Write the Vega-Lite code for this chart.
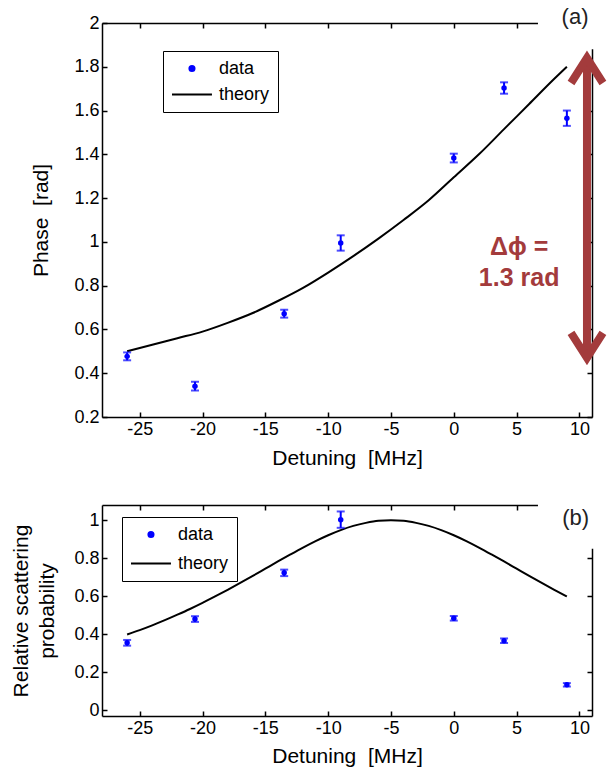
{
  "$schema": "https://vega.github.io/schema/vega-lite/v6.json",
  "padding": {"left": 10, "top": 6, "right": 0, "bottom": 2},
  "spacing": 88,
  "bounds": "flush",
  "resolve": {"scale": {"color": "independent"}, "legend": {"color": "independent"}},
  "datasets": {
    "phase": [
      {"x": -26, "y": 0.477, "lo": 0.459, "hi": 0.495, "series": "data"},
      {"x": -20.6, "y": 0.341, "lo": 0.321, "hi": 0.361, "series": "data"},
      {"x": -13.5, "y": 0.672, "lo": 0.654, "hi": 0.69, "series": "data"},
      {"x": -9, "y": 0.995, "lo": 0.96, "hi": 1.03, "series": "data"},
      {"x": 0, "y": 1.383, "lo": 1.363, "hi": 1.403, "series": "data"},
      {"x": 4, "y": 1.703, "lo": 1.677, "hi": 1.729, "series": "data"},
      {"x": 9, "y": 1.565, "lo": 1.53, "hi": 1.6, "series": "data"}
    ],
    "phase_theory": [
      {"x": -26, "y": 0.5, "series": "theory"},
      {"x": -24, "y": 0.53, "series": "theory"},
      {"x": -22, "y": 0.56, "series": "theory"},
      {"x": -20, "y": 0.59, "series": "theory"},
      {"x": -18, "y": 0.63, "series": "theory"},
      {"x": -16, "y": 0.675, "series": "theory"},
      {"x": -14, "y": 0.73, "series": "theory"},
      {"x": -12, "y": 0.79, "series": "theory"},
      {"x": -10, "y": 0.86, "series": "theory"},
      {"x": -8, "y": 0.935, "series": "theory"},
      {"x": -6, "y": 1.015, "series": "theory"},
      {"x": -4, "y": 1.1, "series": "theory"},
      {"x": -2, "y": 1.19, "series": "theory"},
      {"x": 0, "y": 1.295, "series": "theory"},
      {"x": 2, "y": 1.4, "series": "theory"},
      {"x": 4, "y": 1.515, "series": "theory"},
      {"x": 6, "y": 1.63, "series": "theory"},
      {"x": 8, "y": 1.745, "series": "theory"},
      {"x": 9, "y": 1.8, "series": "theory"}
    ],
    "scat": [
      {"x": -26, "y": 0.355, "lo": 0.34, "hi": 0.37, "series": "data"},
      {"x": -20.6, "y": 0.48, "lo": 0.465, "hi": 0.495, "series": "data"},
      {"x": -13.5, "y": 0.723, "lo": 0.706, "hi": 0.74, "series": "data"},
      {"x": -9, "y": 1.003, "lo": 0.96, "hi": 1.046, "series": "data"},
      {"x": 0, "y": 0.484, "lo": 0.472, "hi": 0.496, "series": "data"},
      {"x": 4, "y": 0.366, "lo": 0.354, "hi": 0.378, "series": "data"},
      {"x": 9, "y": 0.134, "lo": 0.125, "hi": 0.143, "series": "data"}
    ],
    "scat_theory": [
      {"x": -26, "y": 0.399, "series": "theory"},
      {"x": -25, "y": 0.422, "series": "theory"},
      {"x": -24, "y": 0.447, "series": "theory"},
      {"x": -23, "y": 0.474, "series": "theory"},
      {"x": -22, "y": 0.503, "series": "theory"},
      {"x": -21, "y": 0.533, "series": "theory"},
      {"x": -20, "y": 0.565, "series": "theory"},
      {"x": -19, "y": 0.599, "series": "theory"},
      {"x": -18, "y": 0.634, "series": "theory"},
      {"x": -17, "y": 0.67, "series": "theory"},
      {"x": -16, "y": 0.707, "series": "theory"},
      {"x": -15, "y": 0.745, "series": "theory"},
      {"x": -14, "y": 0.783, "series": "theory"},
      {"x": -13, "y": 0.82, "series": "theory"},
      {"x": -12, "y": 0.856, "series": "theory"},
      {"x": -11, "y": 0.89, "series": "theory"},
      {"x": -10, "y": 0.921, "series": "theory"},
      {"x": -9, "y": 0.948, "series": "theory"},
      {"x": -8, "y": 0.97, "series": "theory"},
      {"x": -7, "y": 0.986, "series": "theory"},
      {"x": -6, "y": 0.997, "series": "theory"},
      {"x": -5, "y": 1.0, "series": "theory"},
      {"x": -4, "y": 0.997, "series": "theory"},
      {"x": -3, "y": 0.986, "series": "theory"},
      {"x": -2, "y": 0.97, "series": "theory"},
      {"x": -1, "y": 0.948, "series": "theory"},
      {"x": 0, "y": 0.921, "series": "theory"},
      {"x": 1, "y": 0.89, "series": "theory"},
      {"x": 2, "y": 0.856, "series": "theory"},
      {"x": 3, "y": 0.82, "series": "theory"},
      {"x": 4, "y": 0.783, "series": "theory"},
      {"x": 5, "y": 0.745, "series": "theory"},
      {"x": 6, "y": 0.707, "series": "theory"},
      {"x": 7, "y": 0.67, "series": "theory"},
      {"x": 8, "y": 0.634, "series": "theory"},
      {"x": 9, "y": 0.599, "series": "theory"}
    ],
    "arrow": [
      {"part": "shaft", "i": 0, "x": 10.6, "y": 0.47},
      {"part": "shaft", "i": 1, "x": 10.6, "y": 1.84},
      {"part": "head_top", "i": 0, "x": 9.33, "y": 1.726},
      {"part": "head_top", "i": 1, "x": 10.6, "y": 1.84},
      {"part": "head_top", "i": 2, "x": 11.87, "y": 1.726},
      {"part": "head_bottom", "i": 0, "x": 9.33, "y": 0.584},
      {"part": "head_bottom", "i": 1, "x": 10.6, "y": 0.47},
      {"part": "head_bottom", "i": 2, "x": 11.87, "y": 0.584}
    ]
  },
  "vconcat": [
    {
      "width": 490,
      "height": 394,
      "resolve": {"axis": {"x": "independent", "y": "independent"}},
      "layer": [
        {
          "data": {"name": "phase_theory"},
          "mark": {"type": "line", "strokeWidth": 2, "interpolate": "monotone"},
          "encoding": {
            "x": {"field": "x", "type": "quantitative", "scale": {"domain": [-28, 11], "nice": false},
                  "axis": {"values": [-25, -20, -15, -10, -5, 0, 5, 10], "labelExpr": "'' + datum.value", "title": "Detuning\u00a0\u00a0[MHz]", "titlePadding": 9}},
            "y": {"field": "y", "type": "quantitative", "scale": {"domain": [0.2, 2], "nice": false, "zero": false},
                  "axis": {"values": [0.2, 0.4, 0.6, 0.8, 1, 1.2, 1.4, 1.6, 1.8, 2], "format": "~g", "title": "Phase\u00a0\u00a0[rad]", "titlePadding": 22}},
            "color": {"field": "series", "type": "nominal",
                      "scale": {"domain": ["data", "theory"], "range": ["#0000ff", "#000000"]},
                      "legend": {"orient": "none", "legendX": 61, "legendY": 28, "title": null,
                                 "strokeColor": "#000000", "fillColor": "#ffffff", "padding": 8,
                                 "labelFontSize": 18, "labelColor": "#000000", "labelOffset": 29,
                                 "symbolSize": 289, "rowPadding": 7,
                                 "encode": {"symbols": {"update": {
                                   "shape": {"signal": "datum.value === 'data' ? 'M1.05,0a0.3,0.3 0 1,0 0.6,0a0.3,0.3 0 1,0 -0.6,0Z' : 'M-1,0L3.7,0'"},
                                   "size": {"value": 289},
                                   "fill": {"signal": "datum.value === 'data' ? '#0000ff' : 'transparent'"},
                                   "stroke": {"signal": "datum.value === 'data' ? 'transparent' : '#000000'"},
                                   "strokeWidth": {"value": 2},
                                   "opacity": {"value": 1}}}}}}
          }
        },
        {
          "data": {"name": "phase"},
          "mark": {"type": "errorbar", "color": "#0000ff", "thickness": 2, "ticks": {"size": 8, "thickness": 2}},
          "encoding": {
            "x": {"field": "x", "type": "quantitative", "scale": {"domain": [-28, 11], "nice": false}, "axis": null},
            "y": {"field": "lo", "type": "quantitative", "scale": {"domain": [0.2, 2], "nice": false, "zero": false}, "axis": null},
            "y2": {"field": "hi"}
          }
        },
        {
          "data": {"name": "phase"},
          "mark": {"type": "point", "filled": true, "opacity": 1, "size": 30},
          "encoding": {
            "x": {"field": "x", "type": "quantitative", "scale": {"domain": [-28, 11], "nice": false},
                  "axis": {"orient": "top", "values": [-25, -20, -15, -10, -5, 0, 5, 10], "labels": false, "title": null}},
            "y": {"field": "y", "type": "quantitative", "scale": {"domain": [0.2, 2], "nice": false, "zero": false},
                  "axis": {"orient": "right", "values": [0.2, 0.4, 0.6, 0.8, 1, 1.2, 1.4, 1.6, 1.8, 2], "labels": false, "title": null}},
            "color": {"field": "series", "type": "nominal", "scale": {"domain": ["data", "theory"], "range": ["#0000ff", "#000000"]}}
          }
        },
        {
          "data": {"values": [{"x1": 6.7, "x2": 11.4, "y1": 1.88, "y2": 2.008}]},
          "mark": {"type": "rect", "color": "#ffffff", "clip": false},
          "encoding": {
            "x": {"field": "x1", "type": "quantitative", "scale": {"domain": [-28, 11], "nice": false}, "axis": null},
            "x2": {"field": "x2"},
            "y": {"field": "y1", "type": "quantitative", "scale": {"domain": [0.2, 2], "nice": false, "zero": false}, "axis": null},
            "y2": {"field": "y2"}
          }
        },
        {
          "data": {"name": "arrow"},
          "mark": {"type": "line", "color": "#a33b3c", "strokeWidth": 8, "strokeJoin": "miter", "strokeCap": "butt", "clip": false},
          "encoding": {
            "x": {"field": "x", "type": "quantitative", "scale": {"domain": [-28, 11], "nice": false}, "axis": null},
            "y": {"field": "y", "type": "quantitative", "scale": {"domain": [0.2, 2], "nice": false, "zero": false}, "axis": null},
            "detail": {"field": "part"},
            "order": {"field": "i"}
          }
        },
        {
          "data": {"values": [
            {"x": 5.2, "y": 0.977, "label": "Δϕ ="},
            {"x": 5.2, "y": 0.835, "label": "1.3 rad"}
          ]},
          "mark": {"type": "text", "color": "#a33b3c", "fontSize": 25, "fontWeight": "bold", "align": "center", "baseline": "middle"},
          "encoding": {
            "x": {"field": "x", "type": "quantitative", "scale": {"domain": [-28, 11], "nice": false}, "axis": null},
            "y": {"field": "y", "type": "quantitative", "scale": {"domain": [0.2, 2], "nice": false, "zero": false}, "axis": null},
            "text": {"field": "label"}
          }
        },
        {
          "data": {"values": [{"x": 9.65, "y": 2.027, "label": "(a)"}]},
          "mark": {"type": "text", "color": "#222222", "fontSize": 22, "align": "center", "baseline": "middle", "clip": false},
          "encoding": {
            "x": {"field": "x", "type": "quantitative", "scale": {"domain": [-28, 11], "nice": false}, "axis": null},
            "y": {"field": "y", "type": "quantitative", "scale": {"domain": [0.2, 2], "nice": false, "zero": false}, "axis": null},
            "text": {"field": "label"}
          }
        }
      ]
    },
    {
      "width": 490,
      "height": 211,
      "resolve": {"axis": {"x": "independent", "y": "independent"}},
      "layer": [
        {
          "data": {"name": "scat_theory"},
          "mark": {"type": "line", "strokeWidth": 2, "interpolate": "monotone"},
          "encoding": {
            "x": {"field": "x", "type": "quantitative", "scale": {"domain": [-28, 11], "nice": false},
                  "axis": {"values": [-25, -20, -15, -10, -5, 0, 5, 10], "labelExpr": "'' + datum.value", "title": "Detuning\u00a0\u00a0[MHz]", "titlePadding": 8}},
            "y": {"field": "y", "type": "quantitative", "scale": {"domain": [-0.03, 1.08], "nice": false, "zero": false},
                  "axis": {"values": [0, 0.2, 0.4, 0.6, 0.8, 1], "format": "~g", "title": ["Relative scattering", "probability"], "titlePadding": 16, "titleLineHeight": 26}},
            "color": {"field": "series", "type": "nominal",
                      "scale": {"domain": ["data", "theory"], "range": ["#0000ff", "#000000"]},
                      "legend": {"orient": "none", "legendX": 20, "legendY": 12, "title": null,
                                 "strokeColor": "#000000", "fillColor": "#ffffff", "padding": 8,
                                 "labelFontSize": 18, "labelColor": "#000000", "labelOffset": 29,
                                 "symbolSize": 289, "rowPadding": 10,
                                 "encode": {"symbols": {"update": {
                                   "shape": {"signal": "datum.value === 'data' ? 'M1.05,0a0.3,0.3 0 1,0 0.6,0a0.3,0.3 0 1,0 -0.6,0Z' : 'M-1,0L3.7,0'"},
                                   "size": {"value": 289},
                                   "fill": {"signal": "datum.value === 'data' ? '#0000ff' : 'transparent'"},
                                   "stroke": {"signal": "datum.value === 'data' ? 'transparent' : '#000000'"},
                                   "strokeWidth": {"value": 2},
                                   "opacity": {"value": 1}}}}}}
          }
        },
        {
          "data": {"name": "scat"},
          "mark": {"type": "errorbar", "color": "#0000ff", "thickness": 2, "ticks": {"size": 8, "thickness": 2}},
          "encoding": {
            "x": {"field": "x", "type": "quantitative", "scale": {"domain": [-28, 11], "nice": false}, "axis": null},
            "y": {"field": "lo", "type": "quantitative", "scale": {"domain": [-0.03, 1.08], "nice": false, "zero": false}, "axis": null},
            "y2": {"field": "hi"}
          }
        },
        {
          "data": {"name": "scat"},
          "mark": {"type": "point", "filled": true, "opacity": 1, "size": 30},
          "encoding": {
            "x": {"field": "x", "type": "quantitative", "scale": {"domain": [-28, 11], "nice": false},
                  "axis": {"orient": "top", "values": [-25, -20, -15, -10, -5, 0, 5, 10], "labels": false, "title": null}},
            "y": {"field": "y", "type": "quantitative", "scale": {"domain": [-0.03, 1.08], "nice": false, "zero": false},
                  "axis": {"orient": "right", "values": [0, 0.2, 0.4, 0.6, 0.8, 1], "labels": false, "title": null}},
            "color": {"field": "series", "type": "nominal", "scale": {"domain": ["data", "theory"], "range": ["#0000ff", "#000000"]}}
          }
        },
        {
          "data": {"values": [{"x1": 6.7, "x2": 11.4, "y1": 0.85, "y2": 1.09}]},
          "mark": {"type": "rect", "color": "#ffffff", "clip": false},
          "encoding": {
            "x": {"field": "x1", "type": "quantitative", "scale": {"domain": [-28, 11], "nice": false}, "axis": null},
            "x2": {"field": "x2"},
            "y": {"field": "y1", "type": "quantitative", "scale": {"domain": [-0.03, 1.08], "nice": false, "zero": false}, "axis": null},
            "y2": {"field": "y2"}
          }
        },
        {
          "data": {"values": [{"x": 9.7, "y": 1.012, "label": "(b)"}]},
          "mark": {"type": "text", "color": "#222222", "fontSize": 22, "align": "center", "baseline": "middle", "clip": false},
          "encoding": {
            "x": {"field": "x", "type": "quantitative", "scale": {"domain": [-28, 11], "nice": false}, "axis": null},
            "y": {"field": "y", "type": "quantitative", "scale": {"domain": [-0.03, 1.08], "nice": false, "zero": false}, "axis": null},
            "text": {"field": "label"}
          }
        }
      ]
    }
  ],
  "config": {
    "font": "Liberation Sans",
    "view": {"stroke": null},
    "axis": {
      "grid": false,
      "domainColor": "#000000",
      "domainWidth": 1.5,
      "tickColor": "#000000",
      "tickWidth": 1.5,
      "tickSize": -5,
      "labelPadding": 8,
      "labelFontSize": 18,
      "labelColor": "#000000",
      "labelFont": "Liberation Sans",
      "titleFont": "Liberation Sans",
      "titleFontSize": 21,
      "titleFontWeight": "normal",
      "titleColor": "#000000"
    },
    "legend": {"labelFont": "Liberation Sans"}
  }
}
